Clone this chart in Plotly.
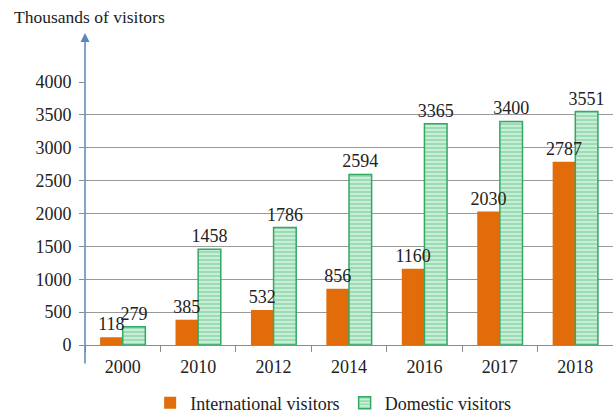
import plotly.graph_objects as go

years = ["2000", "2010", "2012", "2014", "2016", "2017", "2018"]
international = [118, 385, 532, 856, 1160, 2030, 2787]
domestic = [279, 1458, 1786, 2594, 3365, 3400, 3551]
y_ticks = [0, 500, 1000, 1500, 2000, 2500, 3000, 3500, 4000]

FONT = "Liberation Serif, Times New Roman, serif"
TXT = "#222222"

fig = go.Figure()
fig.add_trace(go.Bar(
    name="International visitors", x=years, y=international,
    offsetgroup="intl",
    marker=dict(color="#E36C0A", line=dict(width=0)),
))
fig.add_trace(go.Bar(
    name="Domestic visitors", x=years, y=domestic,
    offsetgroup="dom",
    marker=dict(color="#C8EFD6", line=dict(color="#34A865", width=1.5),
                pattern=dict(shape="-", fgcolor="#63C38F", size=4, solidity=0.45)),
    text=[str(v) for v in domestic], textposition="outside",
    constraintext="none",
    textfont=dict(family=FONT, size=18, color=TXT), cliponaxis=False,
))
# transparent overlay so international labels are drawn above the green bars
fig.add_trace(go.Bar(
    name="International labels", x=years, y=international,
    offsetgroup="intl", showlegend=False, hoverinfo="skip",
    marker=dict(color="rgba(0,0,0,0)", line=dict(width=0)),
    text=[str(v) for v in international], textposition="outside",
    constraintext="none",
    textfont=dict(family=FONT, size=18, color=TXT), cliponaxis=False,
))

fig.update_layout(
    width=613, height=415,
    margin=dict(l=85, r=0, t=82, b=70, autoexpand=False),
    paper_bgcolor="white", plot_bgcolor="white",
    barmode="group", bargap=0.4, bargroupgap=0.0,
    font=dict(family=FONT, size=17, color=TXT),
    showlegend=True,
    legend=dict(orientation="h", x=0.47, xanchor="center",
                y=(345 - 403) / 263, yanchor="middle",
                font=dict(family=FONT, size=18, color=TXT),
                itemwidth=30, tracegroupgap=0),
)
fig.update_xaxes(
    type="category", showline=True, linecolor="#8C8C8C", linewidth=1,
    ticks="outside", tickson="boundaries", ticklen=6, tickcolor="#8C8C8C",
    ticklabelstandoff=5,
    tickfont=dict(family=FONT, size=18, color=TXT), showgrid=False,
)
fig.update_yaxes(
    range=[0, 4000], tickvals=y_ticks, ticktext=[str(v) for v in y_ticks],
    showgrid=True, gridcolor="#9A9A9A", gridwidth=1,
    ticks="outside", ticklen=5, tickcolor="#8C8C8C",
    ticklabelstandoff=4,
    tickfont=dict(family=FONT, size=18, color=TXT),
    showline=False, zeroline=False,
)
# y-axis line with arrow extending above the plot
fig.add_annotation(
    x=0, xref="paper", y=(345 - 33) / 263, yref="paper",
    ax=0, ay=332, axref="pixel", ayref="pixel",
    text="", showarrow=True, arrowhead=2, arrowsize=1.2, arrowwidth=1.5,
    arrowcolor="#5B86B8", standoff=0, startstandoff=0,
)
fig.add_annotation(
    x=-85 / 528 + 12 / 528, xref="paper", xanchor="left",
    y=(345 - 17) / 263, yref="paper", yanchor="middle",
    text="Thousands of visitors", showarrow=False,
    font=dict(family=FONT, size=17.5, color=TXT),
)

fig.write_html("out.html")
